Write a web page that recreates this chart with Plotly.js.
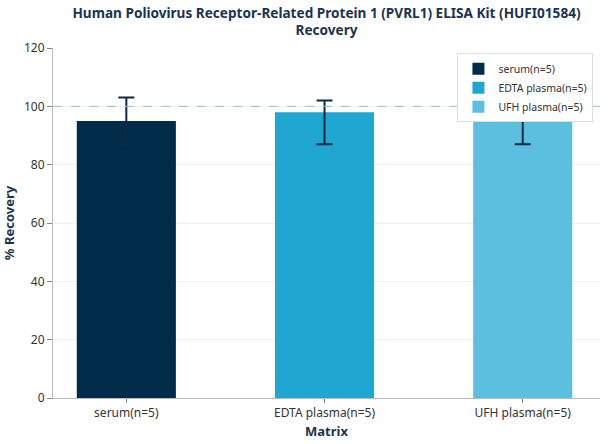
<!DOCTYPE html>
<html>
<head>
<meta charset="utf-8">
<script src="https://cdn.plot.ly/plotly-3.0.1.min.js"></script>
<style>html,body{margin:0;padding:0;background:#fff;}#chart{width:608px;height:444px;}</style>
</head>
<body>
<div id="chart"></div>
<script>
const categories = ["serum(n=5)", "EDTA plasma(n=5)", "UFH plasma(n=5)"];
const recovery = [95, 98, 97];
const errorPlus = [8, 4, 6];
const errorMinus = [8, 11, 10];
const barColors = ["#002b49", "#1fa6d1", "#5bbfe0"];
const referenceLine = 100;

const traces = categories.map((c, i) => ({
  type: "bar",
  name: c,
  x: [c],
  y: [recovery[i]],
  width: 0.5,
  marker: {color: barColors[i]},
  error_y: {
    type: "data",
    symmetric: false,
    array: [errorPlus[i]],
    arrayminus: [errorMinus[i]],
    color: "#0d2a45",
    thickness: 2,
    width: 8
  }
}));

const layout = {
  width: 608,
  height: 444,
  margin: {l: 53, r: 8, t: 48, b: 46},
  paper_bgcolor: "#fff",
  plot_bgcolor: "#fff",
  font: {family: "Noto Sans, Open Sans, sans-serif", color: "#333", size: 12},
  title: {
    text: "<b>Human Poliovirus Receptor-Related Protein 1 (PVRL1) ELISA Kit (HUFI01584)<br>Recovery</b>",
    font: {size: 13.6, color: "#1a3350"},
    x: 0.5, xanchor: "center",
    xref: "paper",
    yref: "container", y: 0.96, yanchor: "top"
  },
  barmode: "overlay",
  showlegend: true,
  legend: {
    x: 0.988, xanchor: "right", y: 0.985, yanchor: "top",
    bgcolor: "#fff", bordercolor: "#ddd", borderwidth: 1,
    font: {size: 10.5, color: "#333"},
    itemwidth: 30
  },
  xaxis: {
    type: "category",
    range: [-0.37, 2.39],
    showline: true, linecolor: "#bbb", linewidth: 1,
    ticks: "outside", ticklen: 4, tickcolor: "#888",
    showgrid: false,
    tickfont: {size: 12, color: "#333"},
    title: {text: "<b>Matrix</b>", font: {size: 13, color: "#1a3350"}, standoff: 6}
  },
  yaxis: {
    range: [0, 120],
    dtick: 20,
    showline: true, linecolor: "#bbb", linewidth: 1,
    ticks: "outside", ticklen: 5, tickcolor: "#888",
    showgrid: true, gridcolor: "#eceef0",
    zeroline: false,
    tickfont: {size: 12, color: "#333"},
    title: {text: "<b>% Recovery</b>", font: {size: 13, color: "#1a3350"}, standoff: 8}
  },
  shapes: [{
    type: "line", xref: "paper", x0: 0, x1: 1, yref: "y", y0: referenceLine, y1: referenceLine,
    line: {color: "#8fc5d6", width: 1, dash: "dash"}
  }]
};

Plotly.newPlot("chart", traces, layout, {displayModeBar: false, staticPlot: true});
</script>
</body>
</html>
